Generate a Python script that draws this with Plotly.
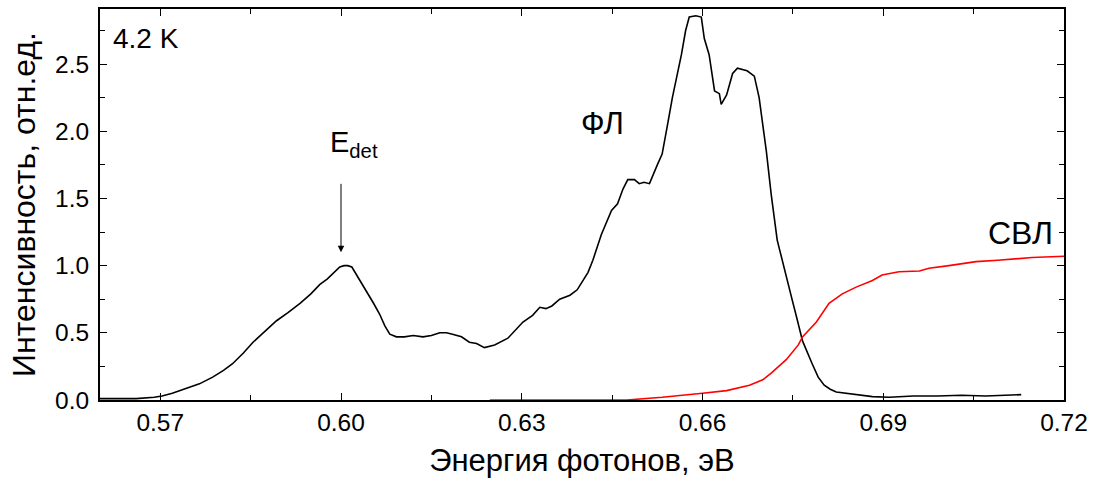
import plotly.graph_objects as go

# Photoluminescence spectrum (ФЛ), photon energy in eV vs relative intensity
pl_energy = [0.5600, 0.5630, 0.5660, 0.5690, 0.5703, 0.5720, 0.5744, 0.5765, 0.5787,
             0.5805, 0.5820, 0.5838, 0.5854, 0.5873, 0.5893, 0.5912, 0.5932, 0.5950,
             0.5965, 0.5977, 0.5987, 0.5998, 0.6005, 0.6011, 0.6018, 0.6026, 0.6035,
             0.6043, 0.6054, 0.6064, 0.6073, 0.6081, 0.6092, 0.6105, 0.6120, 0.6136,
             0.6150, 0.6164, 0.6175, 0.6185, 0.6200, 0.6213, 0.6225, 0.6238, 0.6255,
             0.6277, 0.6290, 0.6302, 0.6318, 0.6330, 0.6340, 0.6350, 0.6363, 0.6380,
             0.6392, 0.6401, 0.6410, 0.6418, 0.6432, 0.6449, 0.6459, 0.6468, 0.6476,
             0.6487, 0.6495, 0.6503, 0.6512, 0.6525, 0.6533, 0.6542, 0.6550, 0.6565,
             0.6572, 0.6578, 0.6589, 0.6598, 0.6603, 0.6611, 0.6620, 0.6628, 0.6631,
             0.6640, 0.6650, 0.6658, 0.6666, 0.6674, 0.6686, 0.6694, 0.6706, 0.6714,
             0.6724, 0.6739, 0.6748, 0.6756, 0.6766, 0.6782, 0.6792, 0.6802, 0.6812,
             0.6822, 0.6840, 0.6855, 0.6882, 0.6910, 0.6950, 0.6990, 0.7030, 0.7070,
             0.7100, 0.7129]
pl_intensity = [0.01, 0.01, 0.01, 0.02, 0.03, 0.05, 0.09, 0.12, 0.17,
                0.22, 0.27, 0.35, 0.43, 0.51, 0.59, 0.65, 0.72, 0.79,
                0.86, 0.90, 0.94, 0.99, 1.00, 1.00, 0.99, 0.93, 0.87,
                0.81, 0.72, 0.64, 0.55, 0.49, 0.47, 0.47, 0.48, 0.47,
                0.48, 0.50, 0.50, 0.49, 0.47, 0.43, 0.42, 0.39, 0.41,
                0.46, 0.52, 0.58, 0.63, 0.69, 0.68, 0.70, 0.75, 0.78,
                0.82, 0.88, 0.95, 1.04, 1.23, 1.41, 1.46, 1.57, 1.64,
                1.64, 1.61, 1.62, 1.61, 1.75, 1.83, 2.05, 2.25, 2.57,
                2.75, 2.85, 2.86, 2.85, 2.69, 2.57, 2.30, 2.28, 2.20,
                2.27, 2.43, 2.47, 2.46, 2.45, 2.41, 2.25, 1.85, 1.53,
                1.19, 0.91, 0.76, 0.62, 0.44, 0.27, 0.17, 0.11, 0.08,
                0.06, 0.05, 0.04, 0.025, 0.02, 0.03, 0.03, 0.035, 0.03,
                0.035, 0.04]

# Photoconductivity / detector response spectrum (СВЛ)
svl_energy = [0.6247, 0.6350, 0.6474, 0.6533, 0.6570, 0.6600, 0.6640, 0.6678,
              0.6700, 0.6714, 0.6739, 0.6759, 0.6766, 0.6789, 0.6810, 0.6832,
              0.6855, 0.6882, 0.6898, 0.6926, 0.6960, 0.6976, 0.7009, 0.7054,
              0.7090, 0.7120, 0.7147, 0.7200]
svl_intensity = [0.00, 0.00, 0.00, 0.02, 0.035, 0.05, 0.07, 0.11,
                 0.15, 0.20, 0.30, 0.41, 0.47, 0.58, 0.72, 0.79,
                 0.84, 0.89, 0.93, 0.955, 0.96, 0.98, 1.00, 1.03,
                 1.04, 1.05, 1.06, 1.07]

x_ticks = [0.57, 0.60, 0.63, 0.66, 0.69, 0.72]
x_tick_text = ["0.57", "0.60", "0.63", "0.66", "0.69", "0.72"]
y_ticks = [0.0, 0.5, 1.0, 1.5, 2.0, 2.5]
y_tick_text = ["0.0", "0.5", "1.0", "1.5", "2.0", "2.5"]

FONT = "Liberation Sans, Arial, sans-serif"

fig = go.Figure()
fig.add_trace(go.Scatter(x=pl_energy, y=pl_intensity, mode="lines",
                         line=dict(color="black", width=1.6), name="ФЛ"))
fig.add_trace(go.Scatter(x=svl_energy, y=svl_intensity, mode="lines",
                         line=dict(color="#ff0000", width=1.6), name="СВЛ"))

axis_common = dict(showline=True, linecolor="black", linewidth=2, mirror="allticks",
                   ticks="inside", ticklen=7, tickwidth=1.2, tickcolor="black",
                   showgrid=False, zeroline=False,
                   tickfont=dict(family=FONT, size=24.5, color="black"),
                   minor=dict(ticks="inside", ticklen=5, tickwidth=1.2, tickcolor="black"))

fig.update_xaxes(range=[0.56, 0.72], tickvals=x_ticks, ticktext=x_tick_text,
                 minor_dtick=0.015, ticklabelstandoff=0,
                 title=dict(text="Энергия фотонов, эВ", standoff=14,
                            font=dict(family=FONT, size=31, color="black")),
                 **axis_common)
fig.update_yaxes(range=[0, 2.91], tickvals=y_ticks, ticktext=y_tick_text,
                 minor_dtick=0.25, ticklabelstandoff=4,
                 title=dict(text="Интенсивность, отн.ед.", standoff=10,
                            font=dict(family=FONT, size=32, color="black")),
                 **axis_common)

annotations = [
    dict(text="4.2 K", x=0.0115, y=0.924, xref="paper", yref="paper",
         xanchor="left", yanchor="middle", showarrow=False,
         font=dict(family=FONT, size=28, color="black")),
    dict(text="ФЛ", x=0.6434, y=2.06, xref="x", yref="y", showarrow=False,
         font=dict(family=FONT, size=31, color="black")),
    dict(text="СВЛ", x=0.7128, y=1.24, xref="x", yref="y", showarrow=False,
         font=dict(family=FONT, size=32, color="black")),
    dict(text="E<sub>det</sub>", x=0.6021, y=1.905, xref="x", yref="y", showarrow=False,
         font=dict(family=FONT, size=29, color="black")),
    dict(text="", x=0.60, y=1.10, xref="x", yref="y", ax=0.60, ay=1.62,
         axref="x", ayref="y", showarrow=True, arrowhead=2, arrowsize=1.3,
         arrowwidth=1, arrowcolor="black"),
]

fig.update_layout(width=1095, height=485, margin=dict(l=100, r=30, t=7, b=85),
                  paper_bgcolor="white", plot_bgcolor="white", showlegend=False,
                  annotations=annotations, font=dict(family=FONT, color="black"))

fig.write_html("out.html")
